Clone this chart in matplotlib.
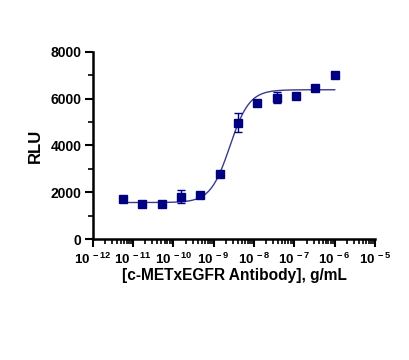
import numpy as np
import matplotlib
matplotlib.use("Agg")
import matplotlib.pyplot as plt
from matplotlib.ticker import LogLocator, MultipleLocator, FixedLocator, NullFormatter

plt.rcParams['font.family'] = ['Liberation Sans', 'DejaVu Sans']
plt.rcParams['font.weight'] = 'bold'
plt.rcParams['mathtext.fontset'] = 'custom'
plt.rcParams['mathtext.rm'] = 'Liberation Sans:bold'
plt.rcParams['mathtext.bf'] = 'Liberation Sans:bold'

# data
conc = [5.6e-12, 1.7e-11, 5.1e-11, 1.5e-10, 4.6e-10, 1.4e-9, 4.1e-9,
        1.2e-8, 3.7e-8, 1.1e-7, 3.3e-7, 1.0e-6]
rlu = [1700, 1490, 1490, 1810, 1900, 2790, 4970, 5830, 6040, 6130, 6470, 7030]
err = [0, 0, 0, 270, 120, 0, 400, 0, 235, 0, 0, 0]
# 4PL fit parameters
bottom, top, log_ec50, hill = 1560, 6380, -8.6, 1.8

xticks = [1e-12, 1e-11, 1e-10, 1e-9, 1e-8, 1e-7, 1e-6, 1e-5]
xticklabels = [r'$10^{\,-12}$', r'$10^{\,-11}$', r'$10^{\,-10}$', r'$10^{\,-9}$',
               r'$10^{\,-8}$', r'$10^{\,-7}$', r'$10^{\,-6}$', r'$10^{\,-5}$']
yticks = [0, 2000, 4000, 6000, 8000]

fig = plt.figure(figsize=(4.09, 3.60), dpi=100)
ax = fig.add_axes([0.227, 0.336, 0.690, 0.520])

navy = '#000080'
xs = np.logspace(np.log10(conc[0]), np.log10(conc[-1]), 300)
ys = bottom + (top - bottom) / (1 + 10 ** ((log_ec50 - np.log10(xs)) * hill))
ax.plot(xs, ys, color='#3a3a8c', lw=1.0, zorder=2)
ax.errorbar(conc, rlu, yerr=err, fmt='s', color=navy, ms=5.5, capsize=3,
            elinewidth=1.0, capthick=1.0, zorder=3)

ax.set_xscale('log')
ax.set_xlim(1e-12, 1e-5)
ax.set_ylim(0, 8000)
ax.xaxis.set_major_locator(FixedLocator(xticks))
ax.set_xticklabels(xticklabels)
ax.xaxis.set_minor_locator(LogLocator(base=10, subs=np.arange(2, 10), numticks=100))
ax.xaxis.set_minor_formatter(NullFormatter())
ax.set_yticks(yticks)
ax.yaxis.set_minor_locator(MultipleLocator(1000))

for s in ['top', 'right']:
    ax.spines[s].set_visible(False)
for s in ['left', 'bottom']:
    ax.spines[s].set_linewidth(1.8)
ax.tick_params(axis='both', which='major', direction='out', length=6, width=1.5, pad=2)
ax.tick_params(axis='y', which='major', labelsize=10)
ax.tick_params(axis='x', which='major', labelsize=9.5, pad=3)
ax.tick_params(axis='both', which='minor', direction='out', length=3.5, width=1.2)

ax.set_ylabel('RLU', fontsize=12, fontweight='bold', labelpad=6)
ax.set_xlabel('[c-METxEGFR Antibody], g/mL', fontsize=11.2, fontweight='bold', labelpad=1)

fig.savefig('out.png', dpi=100)
